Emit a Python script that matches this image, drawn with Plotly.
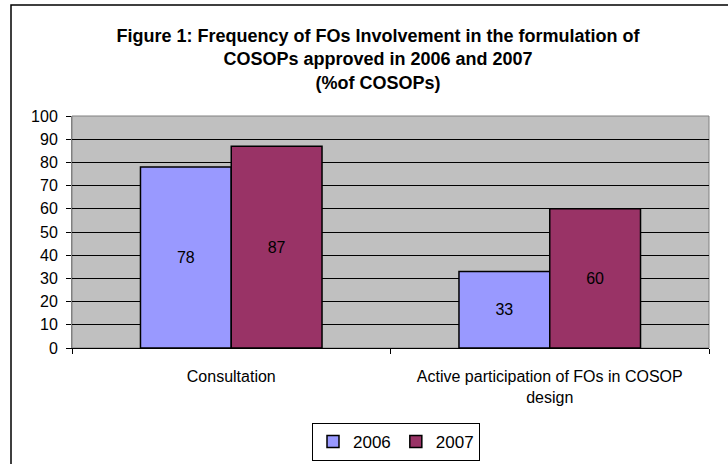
import plotly.graph_objects as go

categories = ["Consultation", "Active participation of FOs in COSOP<br>design"]
years = ["2006", "2007"]
values_2006 = [78, 33]
values_2007 = [87, 60]
y_ticks = [0, 10, 20, 30, 40, 50, 60, 70, 80, 90, 100]

W, H = 728, 464
L, R, T, B = 72, 709, 116, 348

def px(x):
    return (x - L) / (R - L)

def py(y):
    return (B - y) / (B - T)

font_family = "Liberation Sans, Arial, sans-serif"

fig = go.Figure()
for name, vals, color in [(years[0], values_2006, "#9999FF"), (years[1], values_2007, "#993366")]:
    fig.add_trace(go.Bar(
        name=name, x=categories, y=vals,
        marker=dict(color=color, line=dict(color="#000000", width=1.5)),
        text=[str(v) for v in vals], textposition="inside",
        insidetextanchor="middle",
        textfont=dict(color="#000000", size=16, family=font_family),
        cliponaxis=False,
    ))

fig.update_layout(
    width=W, height=H,
    margin=dict(l=L, r=W - R, t=T, b=H - B, pad=0, autoexpand=False),
    paper_bgcolor="#FFFFFF", plot_bgcolor="#C0C0C0",
    barmode="group", bargap=0.43, bargroupgap=0,
    font=dict(family=font_family, size=16, color="#000000"),
    title=dict(
        text="Figure 1: Frequency of FOs Involvement in the formulation of<br>COSOPs approved in 2006 and 2007<br>(%of COSOPs)",
        font=dict(family=font_family, size=18, color="#000000", weight="bold"),
        xref="container", x=378 / W, xanchor="center",
        yref="container", y=1 - 42 / H, yanchor="top",
    ),
    showlegend=True,
    legend=dict(
        orientation="h", x=px(312), xanchor="left", y=py(423), yanchor="top",
        bordercolor="#000000", borderwidth=1, bgcolor="#FFFFFF",
        font=dict(size=17, family=font_family), itemwidth=30,
        traceorder="normal", tracegroupgap=0,
    ),
    xaxis=dict(
        type="category", tickson="boundaries", ticks="outside", ticklen=5,
        tickcolor="#000000", showline=True, linecolor="#000000", linewidth=1,
        showgrid=False, tickfont=dict(size=16, family=font_family),
        ticklabelstandoff=14, automargin=False,
    ),
    yaxis=dict(
        range=[0, 100], tickvals=y_ticks, ticks="outside", ticklen=5,
        tickcolor="#000000", showline=True, linecolor="#808080", linewidth=1,
        showgrid=True, gridcolor="#000000", gridwidth=1, zeroline=False,
        tickfont=dict(size=16, family=font_family), ticklabelstandoff=5,
        automargin=False,
    ),
    shapes=[
        dict(type="rect", xref="paper", yref="paper", x0=0, x1=1, y0=0, y1=1,
             line=dict(color="#808080", width=1), fillcolor="rgba(0,0,0,0)", layer="below"),
        dict(type="rect", xref="paper", yref="paper", x0=px(11), x1=px(760), y0=py(5), y1=py(500),
             line=dict(color="#000000", width=1.5), fillcolor="rgba(0,0,0,0)"),
    ],
)

fig.write_html("out.html", config={"displayModeBar": False},
               post_script="document.body.style.margin='0px';document.body.style.overflow='hidden';")
